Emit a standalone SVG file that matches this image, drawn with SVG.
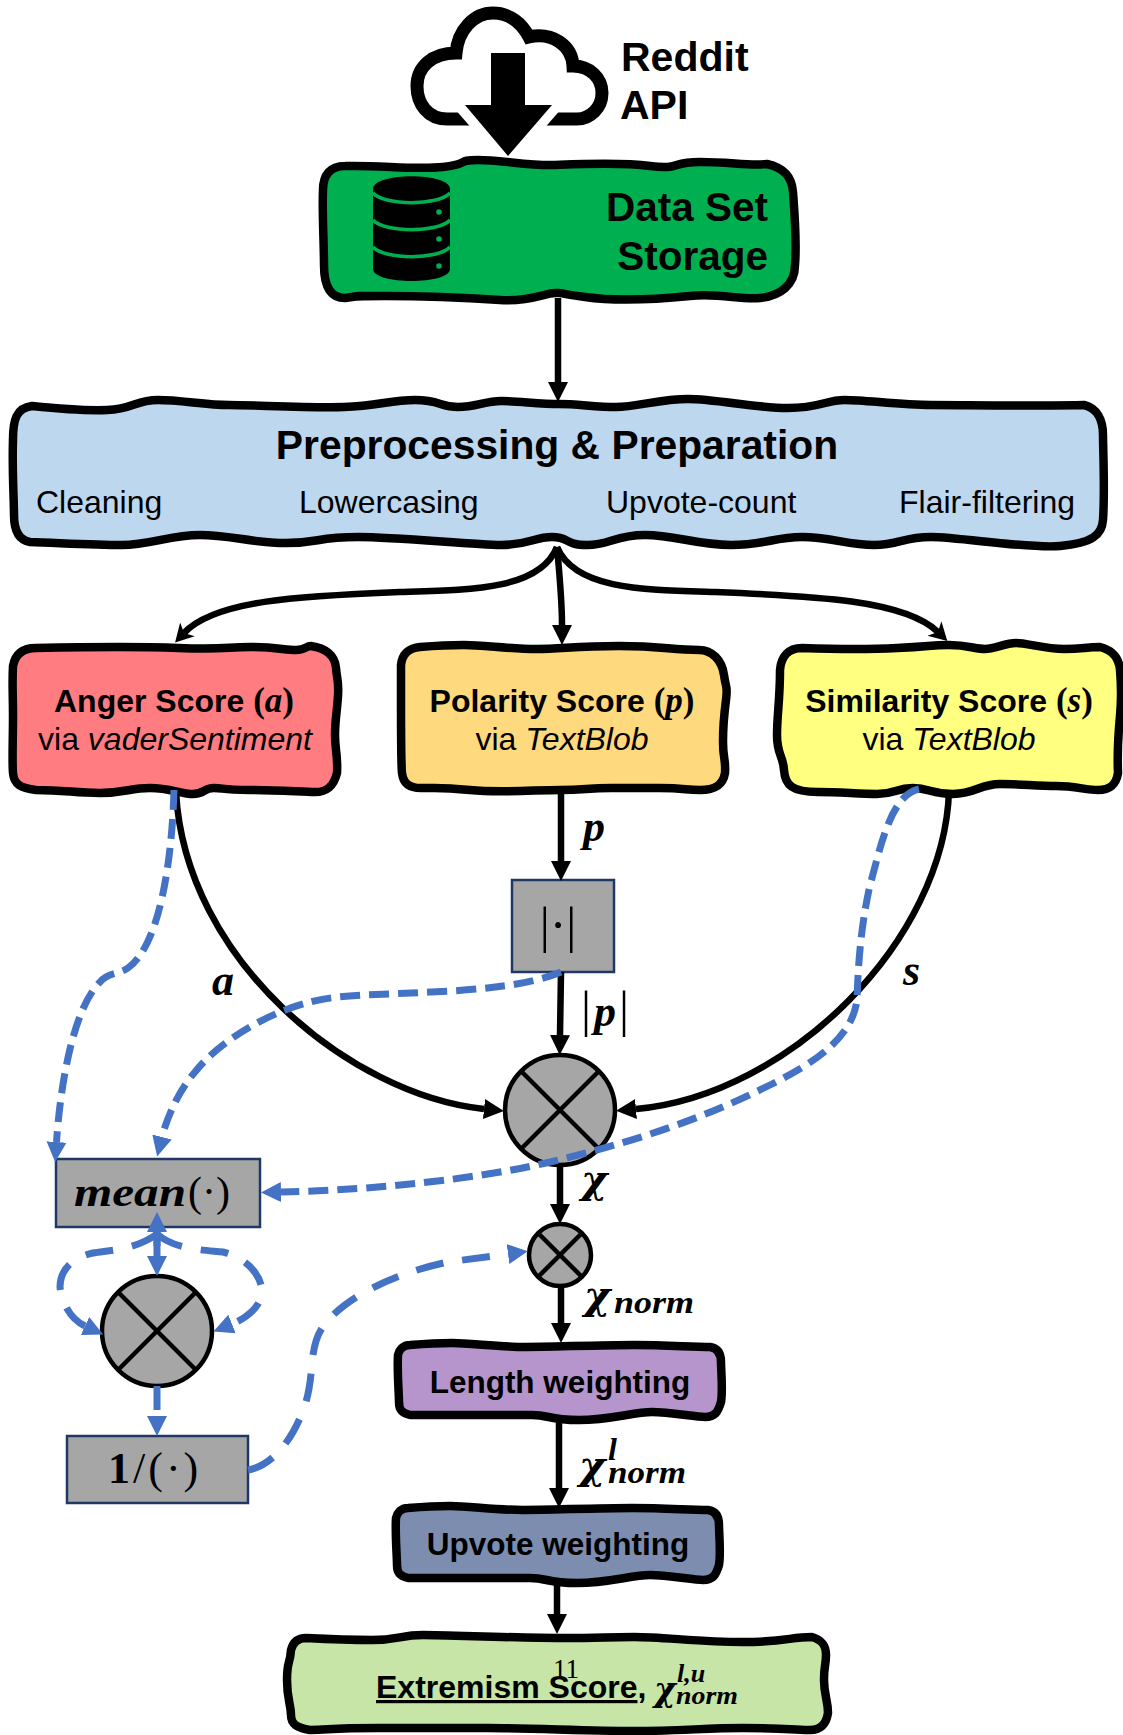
<svg xmlns="http://www.w3.org/2000/svg" width="1123" height="1735" viewBox="0 0 1123 1735">
<defs>
<style>
.box{stroke:#000;stroke-width:8.5;stroke-linejoin:round}
.gray{fill:#a6a6a6;stroke:#1f3864;stroke-width:2.5}
.circ{fill:#a6a6a6;stroke:#000;stroke-width:4.5}
.xl{stroke:#000;stroke-width:4.5;fill:none}
.bl{fill:none;stroke:#000;stroke-width:6.5}
.bd{fill:none;stroke:#4472c4;stroke-width:7;stroke-dasharray:20 9}
.bd2{fill:none;stroke:#4472c4;stroke-width:7;stroke-dasharray:28 19}
.sb{font-family:"Liberation Sans",Arial,sans-serif;font-weight:700;fill:#000}
.sr{font-family:"Liberation Sans",Arial,sans-serif;fill:#000}
.mi{font-family:"Liberation Serif","Times New Roman",serif;font-style:italic;font-weight:700;fill:#000}
.chi{font-family:"DejaVu Serif",serif;font-style:italic;font-weight:700;fill:#000}
.mr{font-family:"Liberation Serif","Times New Roman",serif;fill:#000}
</style>
<marker id="ah" markerUnits="userSpaceOnUse" markerWidth="22" markerHeight="22" viewBox="0 -11 22 22" refX="0" refY="0" orient="auto"><path d="M0,-10L20,0L0,10Z" fill="#000"/></marker>
<marker id="barb" markerUnits="userSpaceOnUse" markerWidth="22" markerHeight="22" viewBox="0 -11 22 22" refX="5" refY="0" orient="auto"><path d="M0,-10L18,0L0,10L5,0Z" fill="#000"/></marker>
<marker id="ab" markerUnits="userSpaceOnUse" markerWidth="22" markerHeight="22" viewBox="0 -11 22 22" refX="0" refY="0" orient="auto"><path d="M0,-10L20,0L0,10Z" fill="#4472c4"/></marker>
</defs>
<g id="reddit-api">
<path d="M490,119H447C428,119 417,104 417,86C417,67 432,53 456,53C458,30 474,13 493,13C510,13 522,24 529,37C552,32 572,45 573,66C590,66 602,78 602,93C602,108 590,119 577,119H525" fill="none" stroke="#000" stroke-width="13"/>
<path d="M447,100H569L508,170Z" fill="#fff"/>
<path d="M491,53H525V105H552L508,156L465,105H491Z" fill="#000"/>
<text class="sb" x="621" y="71" font-size="41">Reddit</text>
<text class="sb" x="620" y="119" font-size="41">API</text>
</g>
<g id="data-set-storage">
<path class="box" fill="#00b050" d="M345,166C380,165 415,170 443,167S455,160 478,160S530,166 555,165S620,162 650,166S670,162 700,162S750,166 767,164C785,168 792,178 793,192S797,240 795,265C795,285 780,296 760,298S720,293 690,296S620,302 585,297S565,293 555,293S530,302 500,300S420,296 385,296S360,296 345,298C330,298 324,285 324,265S322,210 323,190C323,175 330,166 345,166Z"/>
<path d="M373,189C373,172 450,172 450,189V269C450,285 373,285 373,269Z" fill="#000"/>
<path d="M373,193C385,206 438,206 450,193M373,220C385,233 438,233 450,220M373,247C385,260 438,260 450,247" fill="none" stroke="#00b050" stroke-width="3.500"/>
<circle cx="439" cy="212" r="2.8" fill="#00b050"/><circle cx="439" cy="239" r="2.8" fill="#00b050"/><circle cx="439" cy="266" r="2.8" fill="#00b050"/>
<text class="sb" x="768" y="221" font-size="40.5" text-anchor="end">Data Set</text>
<text class="sb" x="768" y="270" font-size="40.5" text-anchor="end">Storage</text>
</g>
<g id="preprocessing">
<path class="box" fill="#bdd7ee" d="M32,406S80,411 107,410S135,400 158,400S205,405 229,405S310,408 344,407S390,400 415,400S440,407 458,407S485,401 501,401S540,404 559,404S595,407 616,407S660,399 688,399S755,408 788,408S825,400 845,400S900,405 931,405S1050,406 1084,405C1097,408 1103,420 1103,435S1105,490 1103,520C1102,535 1092,543 1060,546S960,537 931,537S900,545 874,545S830,537 802,537S765,545 731,545S675,535 645,535S610,545 587,545S570,537 552,537S530,545 501,545S400,537 358,537S320,543 286,543S230,535 200,535S150,545 122,545S60,543 30,542C18,540 14,530 14,515S12,470 13,440C13,420 16,408 32,406Z"/>
<text class="sb" x="557" y="459" font-size="40.8" text-anchor="middle">Preprocessing &amp; Preparation</text>
<text class="sr" x="36" y="513" font-size="32">Cleaning</text>
<text class="sr" x="299" y="513" font-size="32">Lowercasing</text>
<text class="sr" x="606" y="513" font-size="32">Upvote-count</text>
<text class="sr" x="899" y="513" font-size="32">Flair-filtering</text>
</g>
<g id="anger-score">
<path class="box" fill="#ff7c80" d="M36,648S130,646 178,648S225,647 250,647S285,650 296,650S305,646 311,646C325,648 335,655 336,668S339,680 338,696S335,720 335,735S338,755 337,773C334,785 328,792 315,792S280,790 250,790S225,788 214,788S205,794 193,794S170,788 150,788S125,793 100,793S65,790 36,790C21,788 14,785 13,773S13,740 13,716S12,685 13,666C15,655 22,648 36,648Z"/>
<text class="sb" x="174" y="712" font-size="32" text-anchor="middle">Anger Score <tspan class="mr" font-weight="700" font-size="35">(</tspan><tspan class="mi" font-size="35">a</tspan><tspan class="mr" font-weight="700" font-size="35">)</tspan></text>
<text class="sr" x="175" y="750" font-size="32" text-anchor="middle">via <tspan font-style="italic">vaderSentiment</tspan></text>
</g>
<g id="polarity-score">
<path class="box" fill="#ffd97d" d="M420,647S445,645 464,645S510,649 536,649S575,646 619,646S670,650 699,650C712,650 722,660 724,675S728,685 726,700S723,725 723,742S726,760 725,773C723,785 715,790 700,790S685,788 659,788S635,788 611,788S585,790 560,790S500,793 470,790S440,788 421,788C408,788 403,782 402,773S401,730 401,700S401,680 401,665C402,655 408,648 420,647Z"/>
<text class="sb" x="562" y="712" font-size="32" text-anchor="middle">Polarity Score <tspan class="mr" font-weight="700" font-size="35">(</tspan><tspan class="mi" font-size="35">p</tspan><tspan class="mr" font-weight="700" font-size="35">)</tspan></text>
<text class="sr" x="562" y="750" font-size="32" text-anchor="middle">via <tspan font-style="italic">TextBlob</tspan></text>
</g>
<g id="similarity-score">
<path class="box" fill="#ffff80" d="M802,648S860,650 897,648S930,645 949,645S975,649 985,649S1005,643 1016,643S1045,649 1064,649S1085,647 1100,647C1112,650 1119,658 1120,670S1122,695 1120,716S1117,750 1118,773C1116,785 1110,790 1098,790S1075,786 1056,786S1020,784 1000,784S975,794 953,794S930,788 913,788S895,794 877,794S840,792 818,792C792,792 785,785 784,770S777,755 777,735S780,700 780,670C781,657 788,648 802,648Z"/>
<text class="sb" x="949" y="712" font-size="32" text-anchor="middle">Similarity Score <tspan class="mr" font-weight="700" font-size="35">(</tspan><tspan class="mi" font-size="35">s</tspan><tspan class="mr" font-weight="700" font-size="35">)</tspan></text>
<text class="sr" x="949" y="750" font-size="32" text-anchor="middle">via <tspan font-style="italic">TextBlob</tspan></text>
</g>
<g id="abs-op">
<rect class="gray" x="512" y="880" width="102" height="92"/>
<text class="mr" x="558" y="942" font-size="50" text-anchor="middle">|·|</text>
</g>
<g id="product-main">
<circle class="circ" cx="560" cy="1110" r="55"/>
<path class="xl" d="M521,1071L599,1149M599,1071L521,1149"/>
</g>
<g id="product-norm">
<circle class="circ" cx="560" cy="1255" r="31"/>
<path class="xl" d="M538,1233L582,1277M582,1233L538,1277"/>
</g>
<g id="mean-op">
<rect class="gray" x="56" y="1159" width="204" height="68"/>
<text class="mi" x="74" y="1206" font-size="42" textLength="112" lengthAdjust="spacingAndGlyphs">mean</text>
<text class="mr" x="188" y="1206" font-size="42">(·)</text>
</g>
<g id="product-sum">
<circle class="circ" cx="157" cy="1331" r="55"/>
<path class="xl" d="M118,1292L196,1370M196,1292L118,1370"/>
</g>
<g id="inverse-op">
<rect class="gray" x="67" y="1436" width="181" height="67"/>
<text x="108" y="1483" font-size="44" letter-spacing="3"><tspan class="mr" font-weight="700">1</tspan><tspan class="mr">/(·)</tspan></text>
</g>
<g id="length-weighting">
<path class="box" fill="#b595cc" d="M410,1345S435,1343 452,1343S500,1347 525,1347S600,1345 634,1345S690,1347 710,1347C717,1348 721,1353 721,1362S723,1390 721,1402C718,1412 715,1417 705,1417S670,1412 652,1412S610,1420 579,1420S550,1415 532,1415S490,1415 459,1415S430,1415 410,1415C402,1413 399,1410 399,1402S397,1370 398,1355C399,1350 403,1345 410,1345Z"/>
<text class="sb" x="560" y="1393" font-size="31.5" text-anchor="middle">Length weighting</text>
</g>
<g id="upvote-weighting">
<path class="box" fill="#7c8db0" d="M408,1508S433,1506 450,1506S498,1510 523,1510S598,1508 632,1508S688,1510 708,1510C715,1511 719,1516 719,1525S721,1553 719,1565C716,1575 713,1580 703,1580S668,1575 650,1575S608,1583 577,1583S548,1578 530,1578S488,1578 457,1578S428,1578 408,1578C400,1576 397,1573 397,1565S395,1533 396,1518C397,1513 401,1508 408,1508Z"/>
<text class="sb" x="558" y="1555" font-size="31.5" text-anchor="middle">Upvote weighting</text>
</g>
<g id="extremism-score">
<path class="box" fill="#c6e5a7" d="M306,1638S345,1640 372,1640S400,1635 423,1635S520,1638 561,1638S605,1637 634,1637S700,1642 743,1642S790,1637 812,1637C822,1640 826,1645 826,1655S824,1665 824,1680S828,1700 828,1713C826,1725 820,1730 810,1730S780,1728 743,1728S680,1731 634,1731S530,1728 488,1728S430,1728 379,1728S330,1730 310,1730C298,1728 291,1725 291,1715S287,1700 287,1680S290,1665 291,1650C293,1642 298,1638 306,1638Z"/>
<text class="sb" x="376" y="1698" font-size="32" text-decoration="underline">Extremism Score<tspan text-decoration="none">,</tspan></text>
<text class="chi" x="654" y="1701" font-size="33">χ</text>
<text class="mi" x="677" y="1682" font-size="26">l,u</text>
<text class="mi" x="676" y="1704" font-size="26" textLength="62" lengthAdjust="spacingAndGlyphs">norm</text>
</g>
<g id="connectors">
<path class="bl" d="M558,298V382" marker-end="url(#ah)"/>
<path class="bl" d="M557,547C540,590 470,590 400,592C300,596 215,600 184,633" marker-end="url(#barb)"/>
<path class="bl" d="M557,547C560,580 562,600 562,625" marker-end="url(#ah)"/>
<path class="bl" d="M557,547C575,590 645,590 715,592C815,596 905,600 938,632" marker-end="url(#barb)"/>
<path class="bl" d="M561,790L561,861" marker-end="url(#ah)"/>
<path class="bl" d="M561,972L560,1035" marker-end="url(#ah)"/>
<path class="bl" d="M176,792C185,960 350,1095 484,1109" marker-end="url(#ah)"/>
<path class="bl" d="M949,790C945,940 790,1095 636,1109" marker-end="url(#ah)"/>
<path class="bl" d="M560,1165V1204" marker-end="url(#ah)"/>
<path class="bl" d="M561,1286V1323" marker-end="url(#ah)"/>
<path class="bl" d="M559,1418V1488" marker-end="url(#ah)"/>
<path class="bl" d="M557,1580V1614" marker-end="url(#ah)"/>
<path class="bd" d="M174,790C172,860 160,945 128,968C118,975 108,972 100,982C72,1010 60,1090 56.500,1142" marker-end="url(#ab)"/>
<path class="bd" d="M561,972C530,985 480,990 430,992C380,995 340,994 310,1002C270,1012 220,1040 195,1072C175,1095 165,1125 162,1137" marker-end="url(#ab)"/>
<path class="bd" d="M919,789C890,795 880,850 870,885C860,930 858,970 857,1000C852,1040 810,1065 770,1085C690,1125 620,1145 546,1163C480,1178 380,1190 281,1192" marker-end="url(#ab)"/>
<path class="bd" d="M157,1232V1256" style="stroke-dasharray:none" marker-end="url(#ab)"/>
<path class="bd" d="M157,1246V1232" style="stroke-dasharray:none" marker-end="url(#ab)"/>
<path class="bd2" d="M157,1234C135,1250 110,1250 93,1253C70,1258 60,1272 60,1287C62,1305 72,1320 85,1326" marker-end="url(#ab)"/>
<path class="bd2" d="M157,1234C175,1250 205,1250 223,1252C245,1257 262,1275 262,1292C262,1305 247,1318 232,1324" marker-end="url(#ab)"/>
<path class="bd" d="M157,1386L157,1416" style="stroke-dasharray:24 6" marker-end="url(#ab)"/>
<path class="bd2" d="M248,1470C275,1465 295,1435 305,1405C315,1375 308,1350 322,1328C345,1295 400,1272 448,1262L508,1254" marker-end="url(#ab)"/>
</g>
<g id="labels">
<text class="mi" x="583" y="841" font-size="44">p</text>
<text class="mi" x="212" y="995" font-size="44">a</text>
<text class="mi" x="903" y="985" font-size="44">s</text>
<text x="581" y="1026" font-size="44" letter-spacing="3"><tspan class="mr" font-size="50">|</tspan><tspan class="mi">p</tspan><tspan class="mr" font-size="50">|</tspan></text>
<text class="chi" x="581" y="1193" font-size="40">χ</text>
<text class="chi" x="584" y="1309" font-size="40">χ</text>
<text class="mi" x="614" y="1313" font-size="32" textLength="80" lengthAdjust="spacingAndGlyphs">norm</text>
<text class="chi" x="579" y="1479" font-size="40">χ</text>
<text class="mi" x="608" y="1460" font-size="32">l</text>
<text class="mi" x="608" y="1483" font-size="32" textLength="78" lengthAdjust="spacingAndGlyphs">norm</text>
<text class="mr" x="553" y="1678" font-size="27" fill="#222">11</text>
</g>
</svg>
